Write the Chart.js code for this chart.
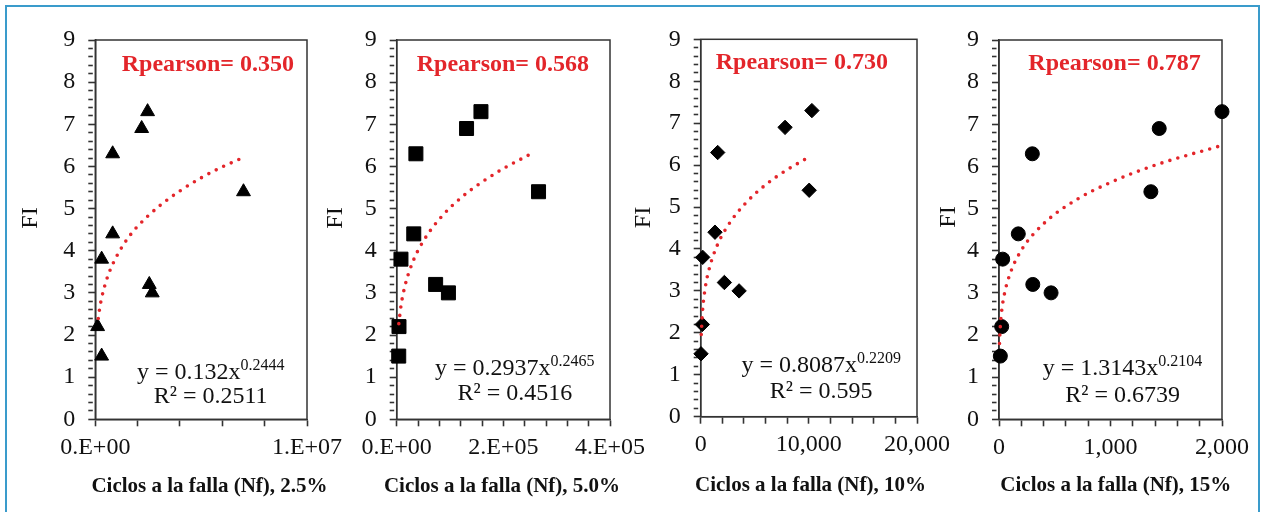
<!DOCTYPE html>
<html>
<head>
<meta charset="utf-8">
<script src="https://cdn.jsdelivr.net/npm/chart.js@4.4.1/dist/chart.umd.min.js"></script>
<style>
  html, body { margin: 0; padding: 0; background: #fff; overflow: hidden; }
  #page { position: relative; width: 1261px; height: 512px; }
  #frame { position: absolute; left: 5px; top: 5px; width: 1251px; height: 520px; border: 2px solid #3a9bcb; }
  canvas { position: absolute; top: 0; }
</style>
</head>
<body>
<div id="page">
  <div id="frame"></div>
  <canvas id="c1"></canvas>
  <canvas id="c2"></canvas>
  <canvas id="c3"></canvas>
  <canvas id="c4"></canvas>
</div>
<script>
// Datos: FI frente a ciclos a la falla (Nf)
const fiValues = [7.3, 6.9, 6.3, 5.4, 4.4, 3.8, 3.2, 3.0, 2.2, 1.5];
const nf25 = [2.47e6, 2.19e6, 0.82e6, 7.0e6, 0.82e6, 0.30e6, 2.55e6, 2.69e6, 0.11e6, 0.30e6];
const nf50 = [1.58e5, 1.31e5, 3.6e4, 2.66e5, 3.2e4, 8e3, 7.3e4, 9.7e4, 4.3e3, 3.8e3];
const nf10 = [10280, 7800, 1570, 10030, 1320, 185, 2190, 3550, 150, 30];
const nf15 = [2000, 1437, 299, 1362, 173, 33, 303, 467, 24, 12];

// Líneas de tendencia (potencial), puntos leídos sobre la curva punteada
const trendX25 = [1.4e5, 2e5, 3e5, 5e5, 7e5, 1e6, 1.5e6, 2e6, 3e6, 4e6, 5e6, 6e6, 6.9e6];
const trendY25 = [2.39, 2.61, 2.88, 3.26, 3.54, 3.86, 4.27, 4.58, 5.05, 5.42, 5.73, 5.99, 6.19];
const trendX50 = [4e3, 8e3, 1.5e4, 3e4, 5e4, 8e4, 1.2e5, 1.6e5, 2e5, 2.49e5];
const trendY50 = [2.27, 2.69, 3.14, 3.73, 4.23, 4.75, 5.25, 5.63, 5.95, 6.28];
const trendX10 = [55, 150, 400, 800, 1500, 2500, 4000, 6000, 8000, 10000];
const trendY10 = [1.96, 2.45, 3.04, 3.54, 4.07, 4.55, 5.05, 5.53, 5.89, 6.19];
const trendX15 = [4.5, 10, 25, 50, 100, 200, 400, 700, 1000, 1400, 2000];
const trendY15 = [1.80, 2.13, 2.59, 2.99, 3.46, 4.01, 4.64, 5.22, 5.62, 6.03, 6.50];

// Etiquetas de ejes y textos
const yTickLabels = ['0', '1', '2', '3', '4', '5', '6', '7', '8', '9'];
const xTickLabels25 = ['0.E+00', '1.E+07'];
const xTickLabels50 = ['0.E+00', '2.E+05', '4.E+05'];
const xTickLabels10 = ['0', '10,000', '20,000'];
const xTickLabels15 = ['0', '1,000', '2,000'];
const xTitles = ['Ciclos a la falla (Nf), 2.5%', 'Ciclos a la falla (Nf), 5.0%', 'Ciclos a la falla (Nf), 10%', 'Ciclos a la falla (Nf), 15%'];
const rPearson = ['Rpearson= 0.350', 'Rpearson= 0.568', 'Rpearson= 0.730', 'Rpearson= 0.787'];
const eqBase = ['y = 0.132x', 'y = 0.2937x', 'y = 0.8087x', 'y = 1.3143x'];
const eqExp = ['0.2444', '0.2465', '0.2209', '0.2104'];
const eqR2 = ['R\u00b2 = 0.2511', 'R\u00b2 = 0.4516', 'R\u00b2 = 0.595', 'R\u00b2 = 0.6739'];

const SERIF = '"Liberation Serif", "Times New Roman", serif';
const RED = '#e3252a';
const AXIS = '#333';

// Posiciones de cada panel (coordenadas de página)
const panels = [
  { id: 'c1', canvasLeft: 10, area: [95.3, 40, 307, 419.3], xMax: 1e7, xStep: 2e6, xMajor: 1e7,
    xs: nf25, tx: trendX25, ty: trendY25, labels: xTickLabels25, marker: 'triangle', radius: 8,
    rX: 121.7, rY: 71, fiX: 30.5, fiY: 218, eqX: 210.7, eqY1: 379, eqY2: 403, ttX: 209.5, ttY: 492 },
  { id: 'c2', canvasLeft: 315, area: [396.7, 40, 610, 419.3], xMax: 4e5, xStep: 4e4, xMajor: 2e5,
    xs: nf50, tx: trendX50, ty: trendY50, labels: xTickLabels50, marker: 'rect', radius: 9.9,
    rX: 416.7, rY: 71, fiX: 336, fiY: 218, eqX: 514.8, eqY1: 375, eqY2: 400, ttX: 502, ttY: 492 },
  { id: 'c3', canvasLeft: 620, area: [700.7, 39.3, 916.7, 416.7], xMax: 20000, xStep: 2000, xMajor: 10000,
    xs: nf10, tx: trendX10, ty: trendY10, labels: xTickLabels10, marker: 'rectRot', radius: 7.2,
    rX: 715.7, rY: 69, fiX: 643.3, fiY: 217.5, eqX: 821.2, eqY1: 371.7, eqY2: 398.3, ttX: 810.5, ttY: 491 },
  { id: 'c4', canvasLeft: 925, area: [999, 40, 1221.7, 419.3], xMax: 2000, xStep: 200, xMajor: 1000,
    xs: nf15, tx: trendX15, ty: trendY15, labels: xTickLabels15, marker: 'circle', radius: 7,
    rX: 1028.3, rY: 70, fiX: 949, fiY: 217, eqX: 1122.6, eqY1: 375, eqY2: 401.7, ttX: 1115.8, ttY: 491 }
];

// Marco del área de gráfico y textos (R de Pearson, ecuación, títulos de ejes)
const panelDecor = {
  id: 'panelDecor',
  beforeDatasetsDraw(chart) {
    const a = chart.chartArea;
    const ctx = chart.ctx;
    ctx.save();
    ctx.strokeStyle = AXIS;
    ctx.lineWidth = 1.5;
    ctx.strokeRect(a.left, a.top, a.right - a.left, a.bottom - a.top);
    ctx.restore();
  },
  afterDraw(chart, args, o) {
    const ctx = chart.ctx;
    const dx = o.canvasLeft;
    const i = o.index;
    ctx.save();
    ctx.textBaseline = 'alphabetic';

    ctx.fillStyle = RED;
    ctx.font = 'bold 24px ' + SERIF;
    ctx.textAlign = 'left';
    ctx.fillText(rPearson[i], o.rX - dx, o.rY);

    ctx.fillStyle = '#111';
    ctx.font = '24px ' + SERIF;
    const w1 = ctx.measureText(eqBase[i]).width;
    ctx.font = '16px ' + SERIF;
    const w2 = ctx.measureText(eqExp[i]).width;
    const start = o.eqX - dx - (w1 + w2) / 2;
    ctx.font = '24px ' + SERIF;
    ctx.fillText(eqBase[i], start, o.eqY1);
    ctx.font = '16px ' + SERIF;
    ctx.fillText(eqExp[i], start + w1, o.eqY1 - 9);
    ctx.font = '24px ' + SERIF;
    ctx.textAlign = 'center';
    ctx.fillText(eqR2[i], o.eqX - dx, o.eqY2);

    ctx.font = 'bold 21px ' + SERIF;
    ctx.fillText(xTitles[i], o.ttX - dx, o.ttY);

    ctx.font = '24px ' + SERIF;
    ctx.textBaseline = 'middle';
    ctx.translate(o.fiX - dx, o.fiY);
    ctx.rotate(-Math.PI / 2);
    ctx.fillText('FI', 0, 0);
    ctx.restore();
  }
};

function isMultiple(v, step) {
  const k = v / step;
  return Math.abs(k - Math.round(k)) < 1e-6;
}

panels.forEach((p, i) => {
  const canvas = document.getElementById(p.id);
  const [left, top, right, bottom] = p.area;
  const padRight = 45;
  const width = Math.round(right + padRight - p.canvasLeft);
  canvas.width = width;
  canvas.height = 512;
  canvas.style.left = p.canvasLeft + 'px';
  canvas.style.width = width + 'px';
  canvas.style.height = '512px';

  const points = p.xs.map((x, k) => ({ x: x, y: fiValues[k] }));
  const trend = p.tx.map((x, k) => ({ x: x, y: p.ty[k] }));

  new Chart(canvas, {
    type: 'scatter',
    data: {
      datasets: [{
        label: 'Tendencia',
        data: trend,
        showLine: true,
        borderColor: RED,
        borderWidth: 3.6,
        borderDash: [0, 8.3],
        borderCapStyle: 'round',
        cubicInterpolationMode: 'monotone',
        pointRadius: 0,
        clip: false,
        order: 0
      }, {
        label: 'FI',
        data: points,
        pointStyle: p.marker,
        pointRadius: p.radius,
        pointHoverRadius: p.radius,
        backgroundColor: '#000',
        borderColor: '#000',
        borderWidth: 1,
        clip: false,
        order: 1
      }]
    },
    options: {
      responsive: false,
      animation: false,
      layout: { padding: { top: top, right: padRight, left: 0, bottom: 0 } },
      plugins: {
        legend: { display: false },
        tooltip: { enabled: false },
        panelDecor: Object.assign({ index: i }, p)
      },
      scales: {
        x: {
          type: 'linear',
          min: 0,
          max: p.xMax,
          afterFit: (s) => { s.height = 512 - bottom; },
          border: { display: true, color: AXIS, width: 1.5 },
          grid: { drawOnChartArea: false, drawTicks: true, tickLength: 7, tickColor: AXIS, tickWidth: 1.6 },
          ticks: {
            stepSize: p.xStep,
            autoSkip: false,
            maxTicksLimit: 100,
            minRotation: 0,
            maxRotation: 0,
            padding: 7,
            color: '#111',
            font: { family: SERIF, size: 24 },
            callback: (v) => isMultiple(v, p.xMajor) ? p.labels[Math.round(v / p.xMajor)] : ''
          }
        },
        y: {
          type: 'linear',
          min: 0,
          max: 9,
          afterFit: (s) => { s.width = left - p.canvasLeft; },
          border: { display: true, color: AXIS, width: 1.5 },
          grid: {
            drawOnChartArea: false,
            drawTicks: true,
            tickLength: 7,
            tickColor: AXIS,
            tickWidth: 1.6,
            tickBorderDash: (c) => (c.tick && isMultiple(c.tick.value, 1)) ? [] : [4.5, 20]
          },
          ticks: {
            stepSize: 0.2,
            autoSkip: false,
            maxTicksLimit: 100,
            padding: 13,
            color: '#111',
            font: { family: SERIF, size: 24 },
            callback: (v) => isMultiple(v, 1) ? yTickLabels[Math.round(v)] : ''
          }
        }
      }
    },
    plugins: [panelDecor]
  });
});
</script>
</body>
</html>
